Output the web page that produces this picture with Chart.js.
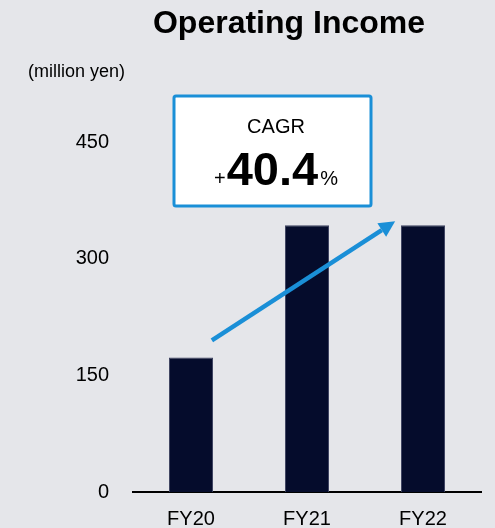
<!doctype html>
<html lang="en">

<head>
    <meta charset="utf-8">
    <title>Operating Income</title>
    <script src="https://cdn.jsdelivr.net/npm/chart.js@4.4.0/dist/chart.umd.min.js"></script>
    <style>
        body { margin: 0; background: #e5e6ea; }
        canvas { display: block; }
    </style>
</head>

<body>

    <canvas id="chart" width="495" height="528"></canvas>

    <script>
        // datos
        var years = ['FY20', 'FY21', 'FY22'];
        var income = [173, 343, 343];
        var yTicks = [0, 150, 300, 450];
        var cagr = '40.4';

        var FONT = "'Liberation Sans', Arial, sans-serif";
        var BLUE = '#1a8fd7';

        // titulo, unidad, caja CAGR y flecha
        var extras = {
            id: 'extras',
            afterDraw: function (chart) {
                var ctx = chart.ctx;
                var x = chart.scales.x;
                var y = chart.scales.y;
                ctx.save();

                ctx.fillStyle = '#000';
                ctx.textAlign = 'center';
                ctx.textBaseline = 'alphabetic';
                ctx.font = 'bold 32px ' + FONT;
                ctx.fillText('Operating Income', 289, 33);

                ctx.textAlign = 'left';
                ctx.font = '18px ' + FONT;
                ctx.fillText('(million yen)', 28, 77);

                // caja
                var bx = 174, by = 96, bw = 197, bh = 110;
                ctx.fillStyle = '#fff';
                ctx.strokeStyle = BLUE;
                ctx.lineWidth = 3;
                ctx.beginPath();
                ctx.roundRect(bx, by, bw, bh, 2);
                ctx.fill();
                ctx.stroke();

                ctx.fillStyle = '#000';
                ctx.textAlign = 'center';
                ctx.font = '20px ' + FONT;
                ctx.fillText('CAGR', 276, 133);

                ctx.textAlign = 'left';
                var base = 185;
                var px = 214;
                ctx.font = '20px ' + FONT;
                ctx.fillText('+', px, base);
                px += ctx.measureText('+').width + 1;
                ctx.font = 'bold 47px ' + FONT;
                ctx.fillText(cagr, px, base);
                px += ctx.measureText(cagr).width + 2;
                ctx.font = '20px ' + FONT;
                ctx.fillText('%', px, base);

                // flecha
                var step = x.getPixelForValue(1) - x.getPixelForValue(0);
                var x1 = x.getPixelForValue(0) + 0.18 * step, y1 = y.getPixelForValue(195);
                var x2 = x.getPixelForValue(0) + 1.76 * step, y2 = y.getPixelForValue(348);
                var ang = Math.atan2(y2 - y1, x2 - x1);
                var head = 16, half = 8;
                var bxh = x2 - head * Math.cos(ang), byh = y2 - head * Math.sin(ang);
                ctx.strokeStyle = BLUE;
                ctx.lineWidth = 4.5;
                ctx.beginPath();
                ctx.moveTo(x1, y1);
                ctx.lineTo(bxh, byh);
                ctx.stroke();
                ctx.fillStyle = BLUE;
                ctx.beginPath();
                ctx.moveTo(x2, y2);
                ctx.lineTo(bxh + half * Math.sin(ang), byh - half * Math.cos(ang));
                ctx.lineTo(bxh - half * Math.sin(ang), byh + half * Math.cos(ang));
                ctx.closePath();
                ctx.fill();

                ctx.restore();
            }
        };

        new Chart(document.getElementById('chart').getContext('2d'), {
            type: 'bar',
            data: {
                labels: years,
                datasets: [{
                    label: 'Operating Income',
                    data: income,
                    backgroundColor: '#050c2c',
                    borderColor: '#3d4260',
                    borderWidth: 1,
                    barPercentage: 0.38,
                    categoryPercentage: 1
                }]
            },
            options: {
                responsive: false,
                animation: false,
                layout: { padding: { top: 142, right: 14, left: 0, bottom: 0 } },
                plugins: {
                    legend: { display: false },
                    tooltip: { enabled: false }
                },
                scales: {
                    x: {
                        grid: { display: false, drawTicks: false },
                        border: { display: true, color: '#000', width: 2 },
                        afterFit: function (s) { s.height = 35; },
                        ticks: { color: '#000', padding: 15, font: { family: FONT, size: 20 } }
                    },
                    y: {
                        min: 0,
                        max: 450,
                        grid: { display: false, drawTicks: false },
                        border: { display: false },
                        afterBuildTicks: function (s) {
                            s.ticks = yTicks.map(function (v) { return { value: v }; });
                        },
                        afterFit: function (s) { s.width = 133; },
                        ticks: { color: '#000', padding: 24, font: { family: FONT, size: 20 } }
                    }
                }
            },
            plugins: [extras]
        });
    </script>

</body>

</html>
